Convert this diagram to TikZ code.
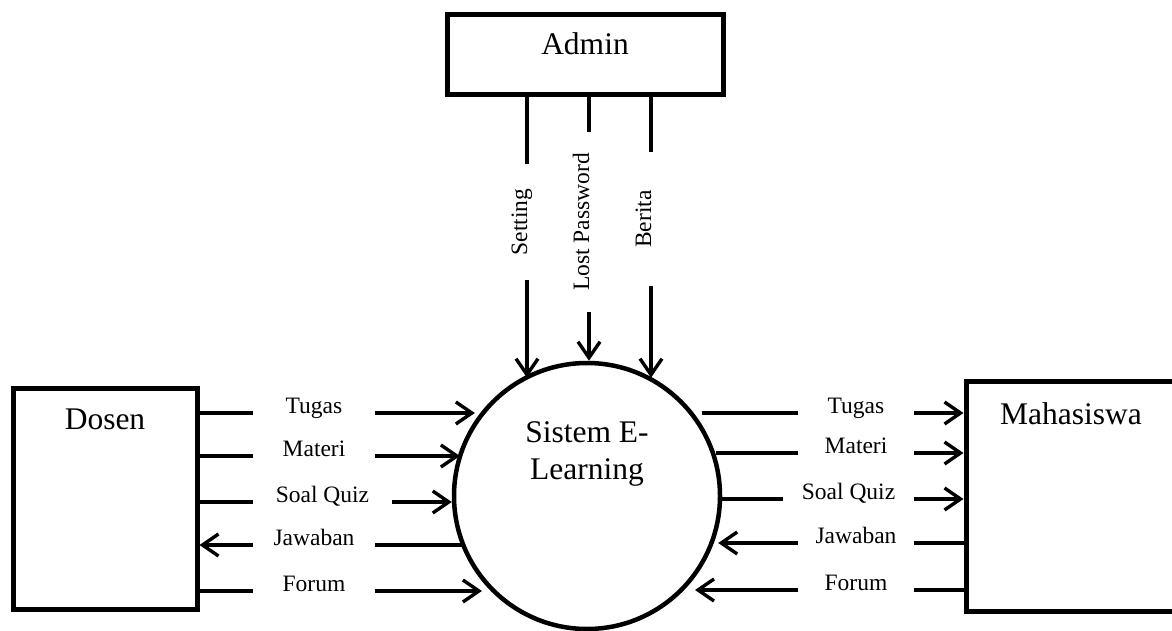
\documentclass[tikz,border=0pt]{standalone}
\usepackage{fontspec}
\setmainfont{Liberation Serif}
\usetikzlibrary{arrows.meta}

\begin{document}
\begin{tikzpicture}[x=1pt,y=-1pt,>={Straight Barb[length=16pt,width=22pt]},
  box/.style={draw,line width=5pt,inner sep=0pt,font=\fontsize{31.5}{37}\selectfont},
  proc/.style={draw,circle,line width=4.5pt,minimum size=266pt,inner sep=0pt,align=center,font=\fontsize{31.5}{37}\selectfont},
  flow/.style={line width=3.4pt},
  lbl/.style={inner sep=0pt,text height=0.7em,text depth=0.7em,font=\fontsize{23.5}{28}\selectfont},
  vlbl/.style={lbl,rotate=90}]
\useasboundingbox (0,0) rectangle (1172,631);
\node[box,minimum width=276pt,text height=40pt,text depth=40pt] (admin) at (585,55) {Admin};
\node[box,minimum width=184pt,text height=41pt,text depth=180pt] (dosen) at (105,498.5) {Dosen};
\node[box,minimum width=210pt,text height=43pt,text depth=187pt] (maha) at (1071,496) {Mahasiswa};
\node[proc,text depth=91pt] (sys) at (587,496) {Sistem E-\\Learning};
\node[vlbl,minimum width=115pt] (lSet) at (527,222) {Setting};
\node[vlbl,minimum width=179pt] (lLost) at (589,222) {Lost Password};
\node[vlbl,minimum width=134pt] (lBerita) at (651,219) {Berita};
\draw[flow] (lSet.east |- admin.south) -- (lSet.east);
\draw[flow,->] (lSet.west) -- (lSet.west |- sys.119);
\draw[flow] (lLost.east |- admin.south) -- (lLost.east);
\draw[flow,->] (lLost.west) -- (lLost.west |- sys.north);
\draw[flow] (lBerita.east |- admin.south) -- (lBerita.east);
\draw[flow,->] (lBerita.west) -- (lBerita.west |- sys.61);
\node[lbl,minimum width=122pt] (lTugas) at (314,413) {Tugas};
\node[lbl,minimum width=122pt] (lMateri) at (314,456) {Materi};
\node[lbl,minimum width=139pt] (lSoal) at (322.5,502) {Soal Quiz};
\node[lbl,minimum width=122pt] (lJawab) at (314,545) {Jawaban};
\node[lbl,minimum width=122pt] (lForum) at (314,591) {Forum};
\draw[flow] (lTugas.west -| dosen.east) -- (lTugas.west);
\draw[flow,->] (lTugas.east) -- (lTugas.east -| sys.146);
\draw[flow] (lMateri.west -| dosen.east) -- (lMateri.west);
\draw[flow,->] (lMateri.east) -- (lMateri.east -| sys.160);
\draw[flow] (lSoal.west -| dosen.east) -- (lSoal.west);
\draw[flow,->] (lSoal.east) -- (lSoal.east -| sys.180);
\draw[flow,->] (lJawab.west) -- (lJawab.west -| dosen.east);
\draw[flow] (lJawab.east -| sys.203) -- (lJawab.east);
\draw[flow] (lForum.west -| dosen.east) -- (lForum.west);
\draw[flow,->] (lForum.east) -- (lForum.east -| sys.219);
\node[lbl,minimum width=116pt] (rTugas) at (856,413) {Tugas};
\node[lbl,minimum width=116pt] (rMateri) at (856,453) {Materi};
\node[lbl,minimum width=131pt] (rSoal) at (848.5,499) {Soal Quiz};
\node[lbl,minimum width=116pt] (rJawab) at (856,543) {Jawaban};
\node[lbl,minimum width=116pt] (rForum) at (856,590) {Forum};
\draw[flow] (rTugas.west -| sys.32) -- (rTugas.west);
\draw[flow,->] (rTugas.east) -- (rTugas.east -| maha.west);
\draw[flow] (rMateri.west -| sys.18) -- (rMateri.west);
\draw[flow,->] (rMateri.east) -- (rMateri.east -| maha.west);
\draw[flow] (rSoal.west -| sys.0) -- (rSoal.west);
\draw[flow,->] (rSoal.east) -- (rSoal.east -| maha.west);
\draw[flow,->] (rJawab.west) -- (rJawab.west -| sys.346);
\draw[flow] (rJawab.east -| maha.west) -- (rJawab.east);
\draw[flow,->] (rForum.west) -- (rForum.west -| sys.323);
\draw[flow] (rForum.east -| maha.west) -- (rForum.east);
\end{tikzpicture}
\end{document}
